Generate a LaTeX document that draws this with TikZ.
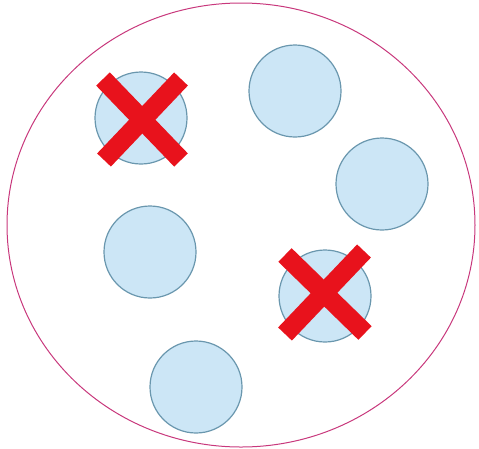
\documentclass[tikz,border=0pt]{standalone}
\usetikzlibrary{shapes.geometric}
\begin{document}
\begin{tikzpicture}[x=1pt,y=-1pt,
  ball/.style={circle,draw=ballline,fill=ballfill,line width=1.2pt,minimum size=92pt,inner sep=0pt},
  cross/.style={draw=crossred,line width=19pt,line cap=butt}]
\definecolor{ballfill}{HTML}{CCE6F6}
\definecolor{ballline}{HTML}{6A97AE}
\definecolor{crossred}{HTML}{E8121C}
\definecolor{rim}{HTML}{C8387C}
\useasboundingbox (0,0) rectangle (479,448);
\node[ellipse,draw=rim,line width=1pt,minimum width=468pt,minimum height=444pt,inner sep=0pt] (dish) at (241,225) {};
\node[ball] (b1) at (141,118) {};
\node[ball] (b2) at (295,91) {};
\node[ball] (b3) at (382,184) {};
\node[ball] (b4) at (150,252) {};
\node[ball] (b5) at (325,296) {};
\node[ball] (b6) at (196,387) {};
\draw[cross] ([shift={(-38,-39)}]b1.center) -- ([shift={(40,42)}]b1.center);
\draw[cross] ([shift={(40,-39)}]b1.center) -- ([shift={(-37,42)}]b1.center);
\draw[cross] ([shift={(-40,-41)}]b5.center) -- ([shift={(40,37)}]b5.center);
\draw[cross] ([shift={(39,-45)}]b5.center) -- ([shift={(-40,38)}]b5.center);
\end{tikzpicture}
\end{document}
